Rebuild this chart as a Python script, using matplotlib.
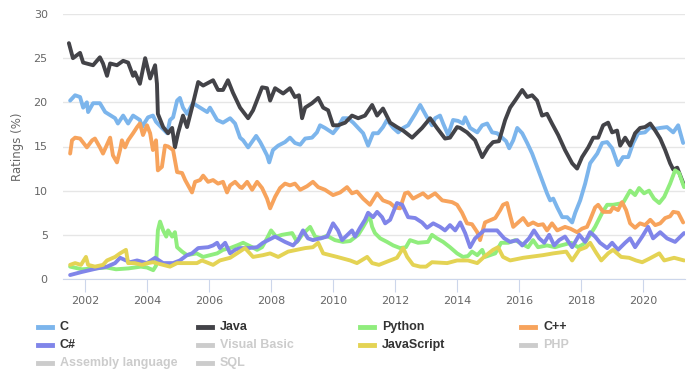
import matplotlib.pyplot as plt
from matplotlib.lines import Line2D

# TIOBE-style ratings (%)
c_years = [2001.52, 2001.68, 2001.84, 2001.94, 2002.06, 2002.10, 2002.26, 2002.48, 2002.65, 2002.97,
           2003.06, 2003.23, 2003.39, 2003.55, 2003.77, 2003.84, 2004.03, 2004.19, 2004.29, 2004.48,
           2004.65, 2004.74, 2004.84, 2004.97, 2005.06, 2005.16, 2005.29, 2005.48, 2005.71, 2005.94,
           2006.03, 2006.26, 2006.45, 2006.68, 2006.84, 2007.00, 2007.10, 2007.26, 2007.42, 2007.52,
           2007.65, 2007.74, 2007.87, 2007.94, 2008.06, 2008.23, 2008.45, 2008.61, 2008.77, 2008.94,
           2009.10, 2009.32, 2009.48, 2009.58, 2009.74, 2010.00, 2010.16, 2010.32, 2010.48, 2010.65,
           2010.81, 2010.97, 2011.13, 2011.29, 2011.45, 2011.61, 2011.74, 2011.94, 2012.10, 2012.26,
           2012.42, 2012.65, 2012.81, 2013.03, 2013.19, 2013.29, 2013.45, 2013.55, 2013.71, 2013.87,
           2014.03, 2014.19, 2014.26, 2014.42, 2014.65, 2014.81, 2014.97, 2015.13, 2015.29, 2015.45,
           2015.58, 2015.68, 2015.81, 2015.94, 2016.10, 2016.26, 2016.42, 2016.58, 2016.74, 2016.90,
           2017.00, 2017.10, 2017.23, 2017.39, 2017.55, 2017.71, 2017.81, 2017.97, 2018.13, 2018.29,
           2018.52, 2018.68, 2018.84, 2019.00, 2019.19, 2019.35, 2019.52, 2019.68, 2019.84, 2020.06,
           2020.23, 2020.39, 2020.55, 2020.77, 2020.97, 2021.13, 2021.29]
c_vals = [20.2, 20.8, 20.6, 19.4, 20.0, 18.9, 19.9, 19.9, 18.9, 18.2,
          17.6, 18.5, 17.6, 18.5, 18.0, 17.2, 18.3, 18.5, 17.8, 17.1,
          16.5, 18.0, 18.3, 20.2, 20.5, 19.4, 18.7, 19.9, 19.4, 18.9,
          19.4, 18.0, 17.7, 18.2, 17.6, 16.0, 15.7, 14.9, 15.7, 16.2,
          15.5, 14.9, 14.0, 13.2, 14.6, 15.1, 15.5, 16.0, 15.4, 15.2,
          15.9, 16.0, 16.6, 17.4, 17.1, 16.5, 17.2, 18.2, 18.2, 17.7,
          17.1, 16.5, 15.1, 16.5, 16.5, 17.2, 18.0, 17.1, 16.6, 17.1,
          17.4, 18.7, 19.7, 18.3, 17.4, 18.2, 18.5, 17.6, 16.3, 18.0,
          17.9, 17.6, 18.3, 17.1, 16.6, 17.4, 17.6, 16.6, 16.5, 16.0,
          15.6, 14.8, 15.7, 17.1, 16.5, 15.4, 14.2, 12.7, 11.2, 9.7,
          8.9, 9.1, 8.1, 7.0, 7.0, 6.4, 7.5, 8.9, 10.8, 13.1,
          14.2, 15.4, 15.5, 14.8, 12.9, 13.8, 13.8, 15.4, 16.5, 16.6,
          17.2, 17.0, 17.1, 17.2, 16.6, 17.4, 15.4]

java_years = [2001.48, 2001.61, 2001.84, 2001.94, 2002.26, 2002.48, 2002.58, 2002.71, 2002.81, 2003.03,
              2003.23, 2003.39, 2003.55, 2003.61, 2003.77, 2003.94, 2004.10, 2004.26, 2004.32, 2004.35,
              2004.52, 2004.68, 2004.81, 2004.90, 2005.00, 2005.16, 2005.29, 2005.45, 2005.65, 2005.81,
              2006.13, 2006.29, 2006.45, 2006.61, 2006.77, 2007.00, 2007.26, 2007.42, 2007.71, 2007.87,
              2007.97, 2008.13, 2008.39, 2008.61, 2008.77, 2008.90, 2009.00, 2009.10, 2009.32, 2009.52,
              2009.68, 2009.84, 2010.00, 2010.16, 2010.39, 2010.61, 2010.81, 2011.03, 2011.26, 2011.42,
              2011.61, 2011.84, 2012.06, 2012.26, 2012.55, 2012.87, 2013.13, 2013.35, 2013.61, 2013.77,
              2014.00, 2014.10, 2014.32, 2014.58, 2014.81, 2015.00, 2015.16, 2015.35, 2015.55, 2015.71,
              2015.87, 2016.10, 2016.26, 2016.42, 2016.58, 2016.74, 2016.90, 2017.06, 2017.26, 2017.48,
              2017.71, 2017.87, 2018.03, 2018.23, 2018.39, 2018.55, 2018.71, 2018.87, 2019.00, 2019.16,
              2019.26, 2019.42, 2019.58, 2019.74, 2019.90, 2020.06, 2020.23, 2020.39, 2020.55, 2020.71,
              2020.87, 2020.97, 2021.10, 2021.32]
java_vals = [26.7, 25.0, 25.6, 24.5, 24.2, 25.1, 24.4, 23.0, 24.4, 24.2,
             24.7, 24.5, 23.0, 23.4, 22.1, 25.0, 22.7, 24.2, 22.1, 18.7,
             17.2, 16.5, 17.1, 14.9, 16.5, 18.5, 17.2, 19.4, 22.3, 21.9,
             22.5, 21.4, 21.4, 22.5, 21.1, 19.4, 18.2, 19.1, 21.7, 21.6,
             20.2, 21.6, 21.0, 21.6, 20.6, 20.8, 18.2, 19.4, 19.9, 20.5,
             19.4, 19.1, 17.4, 17.4, 17.7, 18.5, 18.2, 18.5, 19.7, 18.5,
             19.3, 17.7, 17.2, 16.8, 16.0, 17.1, 18.2, 17.1, 15.9, 16.0,
             17.2, 17.1, 16.6, 15.7, 13.8, 14.9, 15.5, 15.6, 18.0, 19.4,
             20.2, 21.4, 20.6, 20.8, 20.2, 18.5, 18.7, 17.6, 16.3, 14.6,
             13.1, 12.5, 13.8, 14.9, 16.0, 16.0, 17.4, 17.7, 16.6, 16.8,
             15.1, 16.0, 15.1, 16.5, 17.1, 17.2, 17.6, 16.8, 15.9, 14.6,
             13.1, 12.4, 12.6, 10.6]

python_years = [2001.52, 2001.90, 2002.30, 2002.70, 2003.00, 2003.40, 2003.80, 2004.00, 2004.20, 2004.29,
                2004.35, 2004.42, 2004.52, 2004.62, 2004.68, 2004.81, 2004.90, 2004.97, 2005.13, 2005.29,
                2005.60, 2005.81, 2006.26, 2006.45, 2006.68, 2006.90, 2007.10, 2007.39, 2007.55, 2007.71,
                2007.87, 2008.00, 2008.16, 2008.35, 2008.68, 2008.84, 2009.00, 2009.26, 2009.42, 2009.61,
                2009.80, 2010.06, 2010.32, 2010.55, 2010.81, 2010.97, 2011.10, 2011.19, 2011.26, 2011.35,
                2011.52, 2011.74, 2011.94, 2012.16, 2012.35, 2012.48, 2012.74, 2013.06, 2013.19, 2013.35,
                2013.55, 2013.77, 2014.00, 2014.19, 2014.35, 2014.48, 2014.65, 2014.81, 2014.90, 2015.23,
                2015.42, 2015.65, 2015.87, 2016.29, 2016.45, 2016.61, 2016.90, 2017.16, 2017.35, 2017.68,
                2017.90, 2018.10, 2018.29, 2018.45, 2018.68, 2018.84, 2019.03, 2019.35, 2019.58, 2019.74,
                2019.87, 2020.03, 2020.19, 2020.35, 2020.52, 2020.68, 2020.87, 2021.03, 2021.16, 2021.32]
python_vals = [1.4, 1.1, 1.2, 1.3, 1.1, 1.2, 1.4, 1.3, 1.0, 1.5,
               5.5, 6.5, 5.5, 4.8, 5.5, 4.8, 5.3, 3.6, 3.1, 2.7,
               2.9, 2.5, 2.9, 3.3, 3.5, 3.8, 4.1, 3.6, 3.3, 3.6,
               4.6, 5.5, 4.8, 5.0, 5.2, 4.2, 5.0, 5.9, 4.8, 4.6,
               4.9, 4.4, 4.2, 4.3, 5.0, 5.9, 6.7, 7.0, 5.9, 5.2,
               4.6, 4.2, 3.8, 3.5, 3.6, 4.4, 4.1, 4.2, 5.0, 4.6,
               4.2, 3.6, 2.9, 2.5, 2.6, 3.1, 2.7, 3.3, 2.5, 2.9,
               4.1, 4.1, 4.4, 3.6, 4.4, 3.6, 3.8, 3.6, 3.8, 4.1,
               3.6, 4.0, 5.0, 5.9, 7.5, 8.4, 8.4, 8.6, 10.0, 9.5,
               10.3, 9.7, 10.0, 9.1, 8.6, 9.3, 10.8, 12.3, 12.0, 10.4]

cpp_years = [2001.52, 2001.58, 2001.68, 2001.84, 2002.06, 2002.23, 2002.32, 2002.48, 2002.58, 2002.81,
             2002.90, 2003.03, 2003.13, 2003.19, 2003.29, 2003.39, 2003.55, 2003.68, 2003.77, 2003.87,
             2004.00, 2004.10, 2004.19, 2004.29, 2004.35, 2004.48, 2004.58, 2004.68, 2004.84, 2004.97,
             2005.13, 2005.23, 2005.45, 2005.55, 2005.71, 2005.81, 2005.97, 2006.13, 2006.29, 2006.45,
             2006.58, 2006.68, 2006.84, 2007.00, 2007.06, 2007.23, 2007.39, 2007.55, 2007.71, 2007.87,
             2007.97, 2008.13, 2008.29, 2008.45, 2008.61, 2008.77, 2008.94, 2009.16, 2009.35, 2009.52,
             2009.74, 2010.00, 2010.23, 2010.45, 2010.61, 2010.77, 2010.97, 2011.19, 2011.42, 2011.61,
             2011.84, 2012.00, 2012.16, 2012.32, 2012.42, 2012.58, 2012.90, 2013.06, 2013.29, 2013.52,
             2013.84, 2014.00, 2014.16, 2014.32, 2014.48, 2014.65, 2014.74, 2014.90, 2015.23, 2015.39,
             2015.48, 2015.61, 2015.71, 2015.81, 2015.97, 2016.13, 2016.29, 2016.45, 2016.61, 2016.77,
             2016.90, 2017.06, 2017.23, 2017.48, 2017.65, 2017.87, 2018.03, 2018.19, 2018.29, 2018.45,
             2018.55, 2018.71, 2018.94, 2019.03, 2019.19, 2019.32, 2019.45, 2019.58, 2019.74, 2019.90,
             2020.06, 2020.23, 2020.39, 2020.55, 2020.71, 2020.87, 2020.97, 2021.13, 2021.29]
cpp_vals = [14.2, 15.7, 16.0, 15.9, 14.9, 15.7, 15.9, 14.9, 14.2, 16.0,
            14.0, 13.2, 14.6, 15.7, 14.9, 15.7, 16.5, 17.2, 17.6, 16.3,
            17.4, 16.5, 14.6, 15.7, 12.3, 12.7, 15.1, 15.0, 14.6, 12.1,
            12.0, 11.2, 9.8, 11.0, 11.2, 11.7, 11.0, 11.2, 10.8, 11.0,
            9.8, 10.6, 11.0, 10.4, 10.3, 11.0, 10.1, 11.0, 10.3, 9.1,
            8.0, 9.3, 10.3, 10.8, 10.6, 10.8, 10.1, 10.5, 11.0, 10.4,
            10.1, 9.5, 9.8, 10.4, 9.7, 9.9, 9.1, 8.4, 9.7, 8.9,
            8.6, 8.1, 8.0, 9.7, 9.8, 9.1, 9.7, 9.2, 9.7, 8.9,
            8.7, 8.4, 7.5, 6.3, 6.2, 5.3, 4.4, 6.4, 6.9, 7.8,
            8.4, 8.6, 7.2, 5.9, 6.4, 6.9, 6.1, 6.4, 6.1, 6.2,
            5.5, 6.3, 5.5, 5.9, 5.7, 5.3, 5.7, 5.9, 6.7, 8.1,
            8.4, 7.6, 7.6, 8.1, 7.8, 8.7, 7.8, 6.3, 5.8, 6.3,
            6.1, 6.7, 6.1, 6.3, 6.9, 7.1, 7.6, 7.5, 6.4]

csharp_years = [2001.52, 2001.90, 2002.39, 2002.71, 2002.97, 2003.13, 2003.45, 2003.68, 2004.00, 2004.26,
                2004.52, 2004.84, 2005.06, 2005.29, 2005.45, 2005.65, 2005.97, 2006.13, 2006.26, 2006.35,
                2006.52, 2006.68, 2006.84, 2007.00, 2007.26, 2007.55, 2007.74, 2008.13, 2008.45, 2008.71,
                2008.87, 2009.03, 2009.19, 2009.35, 2009.81, 2010.00, 2010.16, 2010.29, 2010.61, 2010.71,
                2010.87, 2011.03, 2011.13, 2011.29, 2011.42, 2011.58, 2011.68, 2011.84, 2012.06, 2012.23,
                2012.42, 2012.65, 2012.87, 2013.03, 2013.23, 2013.45, 2013.61, 2013.77, 2013.94, 2014.10,
                2014.26, 2014.42, 2014.58, 2014.87, 2015.29, 2015.52, 2015.71, 2015.94, 2016.10, 2016.32,
                2016.48, 2016.65, 2016.81, 2016.97, 2017.13, 2017.29, 2017.48, 2017.71, 2017.94, 2018.13,
                2018.29, 2018.45, 2018.61, 2018.84, 2019.00, 2019.19, 2019.42, 2019.58, 2019.74, 2019.97,
                2020.16, 2020.32, 2020.55, 2020.77, 2021.03, 2021.32]
csharp_vals = [0.45, 0.8, 1.2, 1.4, 1.8, 2.4, 1.9, 2.1, 1.8, 2.4,
               1.8, 1.8, 2.1, 2.7, 2.9, 3.5, 3.6, 3.8, 4.1, 3.5,
               4.1, 2.9, 3.3, 3.5, 3.5, 3.6, 4.1, 4.8, 4.2, 3.8,
               4.4, 5.5, 4.6, 4.4, 4.8, 6.3, 5.5, 4.4, 5.5, 4.8,
               5.8, 6.7, 7.5, 7.0, 7.6, 7.0, 6.3, 6.7, 8.6, 8.4,
               7.0, 6.9, 6.4, 5.8, 6.3, 5.9, 5.5, 6.1, 5.5, 6.4,
               5.2, 3.6, 4.6, 5.5, 5.5, 4.6, 4.2, 4.4, 3.8, 4.6,
               5.5, 4.6, 4.1, 5.0, 3.8, 4.4, 4.8, 3.6, 5.0, 4.2,
               5.3, 4.8, 4.1, 3.5, 4.1, 3.3, 4.1, 4.6, 3.6, 4.8,
               5.9, 4.6, 5.3, 4.6, 4.2, 5.2]

js_years = [2001.52, 2001.68, 2001.87, 2002.03, 2002.10, 2002.32, 2002.58, 2002.71, 2002.97, 2003.13,
            2003.32, 2003.39, 2003.60, 2003.84, 2004.03, 2004.19, 2004.52, 2004.74, 2004.97, 2005.29,
            2005.61, 2005.77, 2006.13, 2006.35, 2006.68, 2006.90, 2007.16, 2007.42, 2007.74, 2007.97,
            2008.23, 2008.55, 2009.10, 2009.35, 2009.52, 2009.68, 2010.13, 2010.55, 2010.77, 2011.10,
            2011.26, 2011.48, 2011.84, 2012.06, 2012.26, 2012.39, 2012.58, 2012.81, 2013.00, 2013.19,
            2013.68, 2014.00, 2014.35, 2014.65, 2014.87, 2015.16, 2015.32, 2015.48, 2015.71, 2016.13,
            2016.77, 2017.10, 2017.52, 2017.71, 2017.94, 2018.16, 2018.29, 2018.48, 2018.65, 2018.87,
            2019.03, 2019.29, 2019.55, 2019.77, 2019.97, 2020.20, 2020.52, 2020.68, 2021.00, 2021.32]
js_vals = [1.6, 1.8, 1.6, 2.5, 1.6, 1.4, 1.6, 2.1, 2.5, 2.9,
           3.3, 1.8, 1.8, 1.6, 1.8, 1.9, 1.6, 1.4, 1.8, 1.8,
           1.8, 2.1, 1.6, 2.1, 2.4, 2.9, 3.5, 2.5, 2.7, 2.9,
           2.5, 3.1, 3.5, 3.6, 4.1, 2.9, 2.5, 2.1, 1.8, 2.5,
           1.8, 1.6, 2.1, 2.4, 3.5, 2.5, 1.6, 1.4, 1.4, 1.9,
           1.8, 2.1, 2.1, 1.8, 2.5, 3.3, 3.6, 2.5, 2.1, 2.4,
           2.7, 2.9, 3.1, 2.1, 3.3, 3.6, 4.1, 3.0, 2.1, 2.9,
           3.3, 2.5, 2.4, 2.1, 1.9, 2.3, 2.9, 2.1, 2.4, 2.1]

series = [
    ('C', c_years, c_vals, '#7cb5ec'),
    ('Java', java_years, java_vals, '#434348'),
    ('Python', python_years, python_vals, '#90ed7d'),
    ('C++', cpp_years, cpp_vals, '#f7a35c'),
    ('C#', csharp_years, csharp_vals, '#8085e9'),
    ('JavaScript', js_years, js_vals, '#e4d354'),
]
legend_names = ['C', 'Java', 'Python', 'C++', 'C#', 'Visual Basic', 'JavaScript', 'PHP',
                'Assembly language', 'SQL']
legend_colors = ['#7cb5ec', '#434348', '#90ed7d', '#f7a35c', '#8085e9', '#cccccc', '#e4d354', '#cccccc',
                 '#cccccc', '#cccccc']
year_ticks = list(range(2002, 2021, 2))

fig = plt.figure(figsize=(6.93, 3.82), dpi=100)
ax = fig.add_axes([63 / 693, 1 - 279 / 382, 622 / 693, 265 / 382])

for name, xs, ys, color in series:
    ax.plot(xs, ys, color=color, linewidth=2.8, solid_joinstyle='round', solid_capstyle='round')

ax.set_xlim(2001.29, 2021.35)
ax.set_ylim(0, 30)
ax.set_yticks(range(0, 31, 5))
ax.set_xticks(year_ticks)
ax.grid(axis='y', color='#e6e6e6', linewidth=1)
ax.set_axisbelow(True)
for side in ['top', 'right', 'left']:
    ax.spines[side].set_visible(False)
ax.spines['bottom'].set_color('#ccd6eb')
ax.tick_params(axis='x', length=9, color='#ccd6eb', labelcolor='#666666', labelsize=8, pad=3)
ax.tick_params(axis='y', length=0, labelcolor='#666666', labelsize=8, pad=11)
ax.set_ylabel('Ratings (%)', color='#666666', fontsize=8.5, labelpad=7)

# legend, 4 columns below the plot
col_x = [38, 198, 360, 521]
row_y = [327, 345, 363]
for i, (name, color) in enumerate(zip(legend_names, legend_colors)):
    x = col_x[i % 4]
    y = row_y[i // 4]
    fy = 1 - y / 382
    fig.add_artist(Line2D([x / 693, (x + 14) / 693], [fy, fy], color=color, linewidth=3.5,
                          transform=fig.transFigure))
    text_color = '#333333' if color != '#cccccc' else '#cccccc'
    fig.text((x + 22) / 693, fy, name, color=text_color, fontsize=9, fontweight='bold',
             family='Liberation Sans', va='center', ha='left')

fig.savefig('out.png', dpi=100)
